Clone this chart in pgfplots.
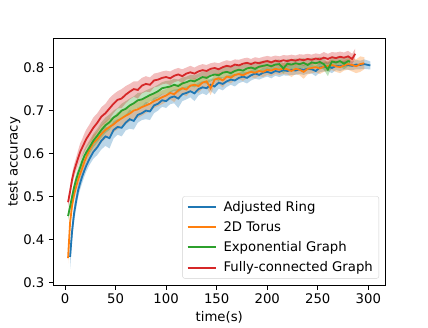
\documentclass[border=0pt]{standalone}
\usepackage{fontspec}
\setmainfont{DejaVu Sans}
\usepackage{pgfplots}
\pgfplotsset{compat=1.18}
\usepackage{pgfplotstable}
\usepgfplotslibrary{fillbetween}

\definecolor{tabblue}{HTML}{1F77B4}
\definecolor{taborange}{HTML}{FF7F0E}
\definecolor{tabgreen}{HTML}{2CA02C}
\definecolor{tabred}{HTML}{D62728}

% columns: time, mean accuracy, half width of the band
\pgfplotstableread{
x y e
5 .360 .028
7 .420 .022
9 .462 .020
11 .490 .018
13 .515 .016
15 .532 .015
17 .547 .015
19 .560 .014
21 .572 .014
24 .587 .014
28 .604 .016
32 .615 .018
36 .630 .020
40 .640 .022
44 .636 .024
48 .655 .020
52 .662 .018
56 .660 .020
60 .672 .018
64 .680 .022
68 .676 .020
72 .690 .018
76 .694 .016
80 .700 .020
84 .698 .020
88 .712 .018
92 .716 .016
96 .724 .015
100 .722 .016
104 .730 .015
108 .733 .016
112 .728 .022
116 .738 .016
120 .741 .015
124 .745 .014
128 .740 .018
132 .750 .015
136 .754 .014
140 .752 .016
144 .760 .014
148 .756 .018
152 .765 .014
156 .762 .015
160 .768 .013
164 .772 .012
168 .770 .014
172 .776 .012
176 .779 .012
180 .776 .013
184 .782 .012
188 .786 .012
192 .783 .011
196 .788 .012
200 .790 .011
204 .787 .012
208 .792 .011
212 .790 .012
216 .794 .012
220 .792 .011
224 .795 .012
228 .793 .010
232 .796 .011
236 .795 .012
240 .797 .011
244 .796 .010
248 .792 .012
252 .800 .011
256 .801 .010
260 .803 .011
264 .799 .012
268 .804 .010
272 .803 .011
276 .805 .010
280 .806 .011
284 .804 .010
288 .807 .011
292 .806 .010
296 .808 .011
300 .806 .010
302 .805 .009
}\ringdata

\pgfplotstableread{
x y e
3 .357 .012
5 .440 .015
7 .480 .015
9 .505 .015
11 .523 .015
13 .540 .015
15 .553 .015
17 .566 .014
19 .580 .014
22 .598 .015
25 .612 .016
28 .625 .018
32 .634 .018
36 .646 .020
40 .655 .020
44 .662 .020
48 .668 .018
52 .676 .020
56 .682 .018
60 .688 .020
64 .693 .018
68 .700 .018
72 .703 .020
76 .708 .020
80 .712 .018
84 .716 .018
88 .722 .016
92 .726 .016
96 .731 .016
100 .735 .015
104 .741 .015
108 .738 .018
112 .747 .015
116 .752 .014
120 .749 .016
124 .758 .014
128 .760 .015
132 .757 .016
136 .765 .014
140 .768 .013
144 .752 .016
148 .772 .013
152 .775 .013
156 .770 .016
160 .779 .013
164 .777 .014
168 .783 .012
172 .785 .012
176 .782 .013
180 .787 .012
184 .790 .012
188 .788 .013
192 .792 .012
196 .790 .012
200 .795 .012
204 .793 .013
208 .797 .012
212 .795 .012
216 .798 .013
220 .796 .012
224 .792 .014
228 .797 .012
232 .795 .013
236 .790 .016
240 .797 .013
244 .799 .012
248 .801 .012
252 .798 .013
256 .802 .012
260 .804 .012
264 .806 .012
268 .803 .013
272 .801 .014
276 .805 .012
280 .808 .013
284 .806 .015
288 .803 .016
292 .808 .018
296 .810 .014
}\torusdata

\pgfplotstableread{
x y e
3 .455 .010
5 .477 .012
7 .500 .012
9 .522 .012
11 .540 .013
13 .555 .013
15 .568 .014
17 .582 .014
19 .594 .015
21 .603 .015
24 .614 .016
28 .630 .016
32 .642 .016
36 .655 .018
40 .666 .018
44 .673 .018
48 .684 .016
52 .690 .016
56 .700 .016
60 .704 .018
64 .712 .016
68 .717 .016
72 .724 .017
76 .726 .016
80 .731 .016
84 .736 .015
88 .740 .015
92 .745 .015
96 .752 .014
100 .754 .015
104 .756 .014
108 .760 .014
112 .757 .015
116 .763 .014
120 .766 .013
124 .770 .013
128 .768 .014
132 .773 .013
136 .778 .013
140 .776 .014
144 .781 .013
148 .784 .012
152 .782 .013
156 .788 .012
160 .790 .012
164 .787 .013
168 .792 .012
172 .795 .012
176 .793 .013
180 .798 .012
184 .800 .012
188 .797 .012
192 .802 .012
196 .804 .012
200 .806 .012
204 .803 .012
208 .807 .011
212 .808 .011
216 .798 .012
220 .809 .011
224 .807 .012
228 .810 .011
232 .808 .012
236 .811 .011
240 .806 .012
244 .812 .011
248 .810 .012
252 .813 .012
256 .808 .013
260 .795 .015
264 .814 .012
268 .812 .012
272 .815 .012
276 .809 .013
280 .815 .012
282 .814 .012
}\expodata

\pgfplotstableread{
x y e
3 .487 .012
5 .512 .013
7 .540 .014
9 .560 .015
11 .575 .016
13 .590 .018
15 .604 .020
17 .614 .020
19 .624 .022
21 .634 .022
24 .645 .022
28 .660 .024
32 .672 .022
36 .686 .022
40 .694 .022
44 .705 .024
48 .716 .022
52 .725 .020
56 .728 .022
60 .737 .020
64 .744 .018
68 .750 .018
72 .748 .020
76 .758 .018
80 .762 .018
84 .760 .017
88 .770 .016
92 .772 .016
96 .776 .015
100 .778 .015
104 .775 .016
108 .781 .015
112 .784 .015
116 .780 .016
120 .786 .014
124 .789 .015
128 .786 .014
132 .791 .014
136 .794 .014
140 .792 .014
144 .797 .013
148 .799 .013
152 .796 .014
156 .801 .013
160 .804 .013
164 .802 .013
168 .807 .012
172 .805 .013
176 .809 .012
180 .811 .012
184 .808 .012
188 .812 .012
192 .810 .012
196 .813 .012
200 .815 .012
204 .812 .013
208 .816 .012
212 .814 .012
216 .817 .012
220 .815 .013
224 .818 .012
228 .816 .012
232 .819 .012
236 .817 .013
240 .820 .012
244 .818 .012
248 .821 .012
252 .819 .012
256 .823 .013
260 .820 .012
264 .824 .012
268 .822 .013
272 .825 .012
276 .823 .012
280 .826 .013
284 .820 .012
287 .832 .012
}\fulldata

\begin{document}
\begin{tikzpicture}
\fontsize{13.3}{16}\selectfont
\begin{axis}[
    at={(53.5bp,36bp)}, anchor=south west,
    scale only axis,
    width=331.5bp, height=246.7bp,
    xmin=-11.4, xmax=316.5,
    ymin=0.2947, ymax=0.868,
    xtick={0,50,...,300},
    ytick={0.3,0.4,...,0.8},
    yticklabel style={/pgf/number format/.cd, fixed, fixed zerofill, precision=1},
    /pgf/number format/assume math mode=true,
    xtick pos=bottom, ytick pos=left,
    tick align=outside,
    major tick length=4.5bp,
    every tick/.style={black, line width=1bp},
    axis line style={line width=1bp},
    xlabel={time(s)},
    ylabel={test accuracy},
    xlabel style={yshift=2bp},
    ylabel style={yshift=-6bp},
    ticklabel style={font=\fontsize{13.3}{16}\selectfont},
    label style={font=\fontsize{13.3}{16}\selectfont},
    legend cell align=left,
    legend style={at={(1,0)}, anchor=south east, xshift=-6bp, yshift=6.5bp,
        draw=black!18, rounded corners=2bp, fill=white, fill opacity=0.8, text opacity=1,
        font=\fontsize{13.3}{16}\selectfont, inner xsep=4bp, inner ysep=2.5bp,
        row sep=4.3bp},
]
% Adjusted Ring
\addplot[name path=ru, draw=none, forget plot] table[x=x, y expr=\thisrow{y}+\thisrow{e}] {\ringdata};
\addplot[name path=rl, draw=none, forget plot] table[x=x, y expr=\thisrow{y}-\thisrow{e}] {\ringdata};
\addplot[tabblue, fill opacity=0.3, draw=none, forget plot] fill between[of=ru and rl];
\addplot[tabblue, line width=1.8bp,
    legend image code/.code={\draw[tabblue, line width=2bp] (0bp,0bp) -- (28bp,0bp); \path (33bp,0bp);}]
    table[x=x, y=y] {\ringdata};
\addlegendentry{Adjusted Ring}
% 2D Torus
\addplot[name path=tu, draw=none, forget plot] table[x=x, y expr=\thisrow{y}+\thisrow{e}] {\torusdata};
\addplot[name path=tl, draw=none, forget plot] table[x=x, y expr=\thisrow{y}-\thisrow{e}] {\torusdata};
\addplot[taborange, fill opacity=0.3, draw=none, forget plot] fill between[of=tu and tl];
\addplot[taborange, line width=1.8bp,
    legend image code/.code={\draw[taborange, line width=2bp] (0bp,0bp) -- (28bp,0bp); \path (33bp,0bp);}]
    table[x=x, y=y] {\torusdata};
\addlegendentry{2D Torus}
% Exponential Graph
\addplot[name path=eu, draw=none, forget plot] table[x=x, y expr=\thisrow{y}+\thisrow{e}] {\expodata};
\addplot[name path=el, draw=none, forget plot] table[x=x, y expr=\thisrow{y}-\thisrow{e}] {\expodata};
\addplot[tabgreen, fill opacity=0.3, draw=none, forget plot] fill between[of=eu and el];
\addplot[tabgreen, line width=1.8bp,
    legend image code/.code={\draw[tabgreen, line width=2bp] (0bp,0bp) -- (28bp,0bp); \path (33bp,0bp);}]
    table[x=x, y=y] {\expodata};
\addlegendentry{Exponential Graph}
% Fully-connected Graph
\addplot[name path=fu, draw=none, forget plot] table[x=x, y expr=\thisrow{y}+\thisrow{e}] {\fulldata};
\addplot[name path=fl, draw=none, forget plot] table[x=x, y expr=\thisrow{y}-\thisrow{e}] {\fulldata};
\addplot[tabred, fill opacity=0.3, draw=none, forget plot] fill between[of=fu and fl];
\addplot[tabred, line width=1.8bp,
    legend image code/.code={\draw[tabred, line width=2bp] (0bp,0bp) -- (28bp,0bp); \path (33bp,0bp);}]
    table[x=x, y=y] {\fulldata};
\addlegendentry{Fully-connected Graph}
\end{axis}
\path (0,0) rectangle (428bp,321bp);
\end{tikzpicture}
\end{document}
